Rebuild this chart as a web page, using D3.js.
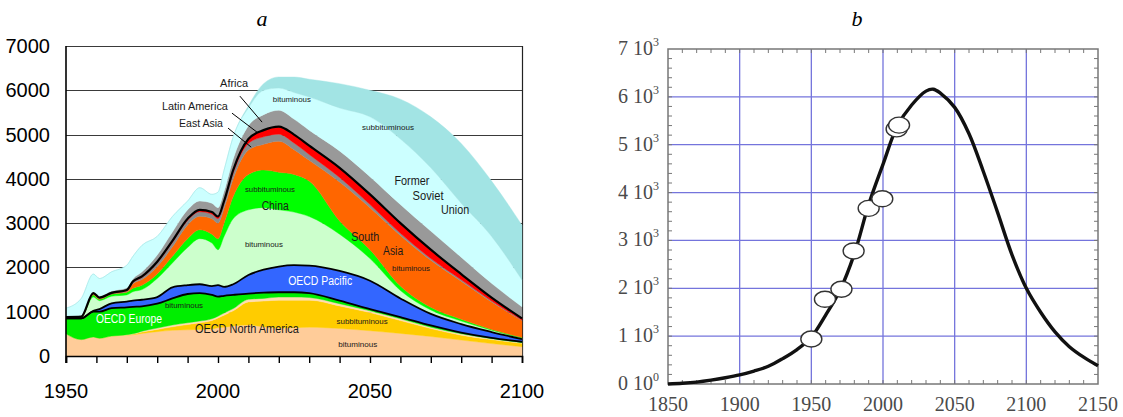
<!DOCTYPE html>
<html>
<head>
<meta charset="utf-8">
<script src="https://cdn.jsdelivr.net/npm/d3@7"></script>
<style>
  body { margin: 0; background: #fff; }
  text { font-family: "Liberation Sans", Arial, sans-serif; }
  .serif { font-family: "Liberation Serif", "Times New Roman", serif; }
</style>
</head>
<body>
<svg id="chart" width="1123" height="417"></svg>
<script>
// ---------- PANEL A : coal production by region (stacked) ----------
var years = [1950, 1955, 1959, 1961, 1965, 1970, 1972, 1975, 1980, 1985, 1990, 1994, 1998, 2000,
  2002, 2005, 2010, 2015, 2020, 2025, 2030, 2040, 2050, 2060, 2070, 2080, 2090, 2100];

var naBit     = [500, 370, 430, 400, 450, 470, 480, 510, 550, 580, 590, 600, 610, 640, 650, 680, 700, 660, 630, 640, 650, 620, 570, 510, 440, 360, 280, 210];
var naSub     = [0, 0, 0, 0, 0, 0, 10, 30, 50, 80, 120, 150, 190, 220, 270, 340, 520, 580, 630, 620, 610, 510, 410, 290, 180, 110, 90, 77];
var naLig     = [0, 0, 0, 0, 0, 10, 10, 20, 30, 40, 40, 40, 40, 40, 50, 50, 60, 60, 70, 70, 60, 50, 40, 40, 30, 30, 20, 15];
var europe    = [350, 480, 570, 600, 630, 620, 610, 560, 550, 600, 650, 630, 540, 440, 390, 310, 130, 130, 110, 110, 100, 70, 40, 40, 40, 30, 20, 20];
var pacific   = [0, 0, 20, 60, 110, 130, 140, 150, 150, 250, 200, 200, 200, 260, 200, 240, 420, 520, 580, 610, 620, 670, 640, 420, 260, 190, 130, 58];
var chinaBit  = [20, 30, 310, 190, 160, 150, 200, 230, 420, 550, 850, 1030, 970, 800, 1140, 1480, 1470, 1400, 1280, 1200, 1110, 830, 500, 180, 90, 70, 40, 20];
var chinaSub  = [0, 0, 50, 30, 50, 60, 80, 100, 100, 150, 200, 200, 200, 250, 300, 500, 800, 850, 850, 850, 800, 300, 200, 100, 60, 40, 20, 20];
var southAsia = [0, 0, 20, 20, 0, 10, 100, 125, 170, 215, 310, 305, 350, 350, 335, 400, 550, 580, 700, 560, 470, 880, 950, 1140, 1060, 860, 620, 380];
var eastAsia  = [0, 0, 10, 10, 10, 20, 30, 50, 80, 100, 100, 100, 100, 100, 110, 130, 150, 170, 160, 150, 130, 100, 70, 50, 40, 30, 20, 10];
var latinAm   = [10, 10, 10, 10, 15, 20, 20, 25, 30, 35, 40, 45, 50, 50, 55, 70, 100, 150, 170, 190, 200, 220, 230, 230, 200, 130, 80, 40];
var africa    = [20, 20, 30, 30, 40, 50, 60, 100, 150, 200, 200, 200, 200, 200, 220, 250, 300, 350, 370, 350, 350, 380, 400, 420, 420, 380, 320, 260];
var fsuBit    = [180, 390, 400, 400, 435, 510, 510, 600, 420, 350, 200, 300, 200, 350, 480, 500, 400, 550, 500, 600, 750, 970, 1350, 1480, 1430, 1220, 1060, 605];
var fsuSub    = [0, 0, 0, 0, 0, 0, 0, 0, 0, 0, 0, 0, 0, 0, 0, 0, 50, 150, 250, 350, 400, 550, 600, 900, 1150, 1350, 1250, 1240];

var layerKeys = ['naBit', 'naSub', 'naLig', 'europe', 'pacific', 'chinaBit', 'chinaSub',
  'southAsia', 'eastAsia', 'latinAm', 'africa', 'fsuBit', 'fsuSub'];
var layerColors = {
  naBit: '#ffcc99', naSub: '#ffcc00', naLig: '#ffdcb0', europe: '#00ee00', pacific: '#3366ff',
  chinaBit: '#ccffcc', chinaSub: '#00ff00', southAsia: '#ff6600', eastAsia: '#8c8c8c',
  latinAm: '#ff0000', africa: '#999999', fsuBit: '#ccffff', fsuSub: '#a2e4e4'
};
var outlinedKeys = ['europe', 'pacific', 'latinAm'];   // black line on top of these layers

var yTicksA = [0, 1000, 2000, 3000, 4000, 5000, 6000, 7000];
var xLabelsA = [1950, 2000, 2050, 2100];

// text labels placed in data units (year, value)
var labelsA = [
  { t: 'Africa', yr: 2005.3, v: 6070, w: 28, s: 11 },
  { t: 'Latin America', yr: 1992.4, v: 5550, w: 66, s: 11 },
  { t: 'East Asia', yr: 1994.4, v: 5170, w: 44, s: 11 },
  { t: 'bituminous', yr: 2024.3, v: 5730, w: 38, s: 7.5 },
  { t: 'subbituminous', yr: 2055.9, v: 5100, w: 52, s: 7.5 },
  { t: 'Former', yr: 2063.8, v: 3860, w: 35, s: 12 },
  { t: 'Soviet', yr: 2069.1, v: 3520, w: 31, s: 12 },
  { t: 'Union', yr: 2078, v: 3205, w: 28, s: 12 },
  { t: 'subbituminous', yr: 2017.1, v: 3700, w: 50, s: 7.5 },
  { t: 'China', yr: 2018.8, v: 3295, w: 27, s: 12 },
  { t: 'bituminous', yr: 2015.1, v: 2460, w: 38, s: 7.5 },
  { t: 'South', yr: 2048.4, v: 2596, w: 28, s: 12 },
  { t: 'Asia', yr: 2057.6, v: 2280, w: 20, s: 12 },
  { t: 'bituminous', yr: 2063.5, v: 1918, w: 38, s: 7.5 },
  { t: 'OECD Pacific', yr: 2033.6, v: 1602, w: 64, s: 12, c: '#fff' },
  { t: 'bituminous', yr: 1988.8, v: 1083, w: 38, s: 7.5 },
  { t: 'OECD Europe', yr: 1970.7, v: 745, w: 66, s: 12, c: '#fff' },
  { t: 'OECD North America', yr: 2009.5, v: 519, w: 104, s: 12 },
  { t: 'subbituminous', yr: 2047.4, v: 722, w: 51, s: 7.5 },
  { t: 'bituminous', yr: 2046, v: 203, w: 39, s: 7.5 }
];
var leadersA = [
  [[2007.2, 5868], [2014.5, 5281]],
  [[2004.6, 5484], [2012.8, 5056]],
  [[2003.3, 5146], [2010.9, 4717]]
];

// ---------- PANEL B : single curve with observed points ----------
var curveYears  = [1850, 1860, 1870, 1880, 1890, 1900, 1910, 1920, 1930, 1940, 1950, 1960, 1970, 1980, 1990,
  2000, 2010, 2020, 2030, 2035, 2040, 2050, 2060, 2070, 2080, 2090, 2100, 2110, 2120, 2130, 2140, 2150];
var curveValues = [0, 15, 40, 80, 130, 190, 270, 370, 530, 720, 980, 1440, 1960, 2720, 3750,
  4590, 5390, 5830, 6120, 6160, 6080, 5780, 5230, 4440, 3580, 2700, 2000, 1500, 1090, 780, 560, 380];
var pointYears  = [1950, 1959.5, 1971, 1979.5, 1990, 1999.5, 2009.5, 2011.2];
var pointValues = [940, 1770, 1980, 2780, 3670, 3870, 5330, 5410];
var yTicksB = [0, 1, 2, 3, 4, 5, 6, 7];
var xTicksB = [1850, 1900, 1950, 2000, 2050, 2100, 2150];

var svg = d3.select('#chart');

// ================= panel a =================
var xA = d3.scaleLinear().domain([1950, 2100]).range([66, 522]);
var yA = d3.scaleLinear().domain([0, 7000]).range([356, 46]);

var gA = svg.append('g');

// grid lines behind the areas
gA.append('g')
  .selectAll('line')
  .data(yTicksA.filter(d => d > 0))
  .join('line')
  .attr('x1', xA(1950))
  .attr('x2', xA(2100))
  .attr('y1', d => Math.round(yA(d)) + 0.5)
  .attr('y2', d => Math.round(yA(d)) + 0.5)
  .attr('stroke', '#3a3a3a')
  .attr('stroke-width', 1.2);

gA.append('line')
  .attr('x1', xA(2100) + 0.5).attr('x2', xA(2100) + 0.5)
  .attr('y1', yA(7000)).attr('y2', yA(0))
  .attr('stroke', '#222').attr('stroke-width', 1.2);

var table = years.map(function(yr, i) {
  var row = { year: yr };
  row.naBit = naBit[i]; row.naSub = naSub[i]; row.naLig = naLig[i];
  row.europe = europe[i]; row.pacific = pacific[i];
  row.chinaBit = chinaBit[i]; row.chinaSub = chinaSub[i];
  row.southAsia = southAsia[i]; row.eastAsia = eastAsia[i]; row.latinAm = latinAm[i];
  row.africa = africa[i]; row.fsuBit = fsuBit[i]; row.fsuSub = fsuSub[i];
  return row;
});

var stacked = d3.stack().keys(layerKeys)(table);

var area = d3.area()
  .x(d => xA(d.data.year))
  .y0(d => yA(d[0]))
  .y1(d => yA(d[1]))
  .curve(d3.curveMonotoneX);

gA.append('g')
  .selectAll('path')
  .data(stacked)
  .join('path')
  .attr('d', area)
  .attr('fill', d => layerColors[d.key])
  .attr('stroke', d => layerColors[d.key])
  .attr('stroke-width', 0.4);

var topLine = d3.line()
  .x(d => xA(d.data.year))
  .y(d => yA(d[1]))
  .curve(d3.curveMonotoneX);

gA.append('g')
  .selectAll('path')
  .data(stacked.filter(s => outlinedKeys.indexOf(s.key) >= 0))
  .join('path')
  .attr('d', topLine)
  .attr('fill', 'none')
  .attr('stroke', '#000')
  .attr('stroke-width', d => d.key == 'latinAm' ? 2.2 : 1.8);

// labels inside the chart
gA.append('g')
  .selectAll('text')
  .data(labelsA)
  .join('text')
  .attr('x', d => xA(d.yr))
  .attr('y', d => yA(d.v))
  .attr('text-anchor', 'middle')
  .attr('font-size', d => d.s + 'px')
  .attr('textLength', d => d.w)
  .attr('lengthAdjust', 'spacingAndGlyphs')
  .attr('fill', d => d.c || '#1a1a1a')
  .text(d => d.t);

gA.append('g')
  .selectAll('line')
  .data(leadersA)
  .join('line')
  .attr('x1', d => xA(d[0][0])).attr('y1', d => yA(d[0][1]))
  .attr('x2', d => xA(d[1][0])).attr('y2', d => yA(d[1][1]))
  .attr('stroke', '#000').attr('stroke-width', 1);

// axes
gA.append('line')
  .attr('x1', xA(1950)).attr('x2', xA(1950))
  .attr('y1', yA(7000)).attr('y2', yA(0) + 7)
  .attr('stroke', '#000').attr('stroke-width', 1.6);

gA.append('g')
  .attr('transform', 'translate(0,' + yA(0) + ')')
  .call(d3.axisBottom(xA).tickValues(d3.range(1950, 2101, 10)).tickSize(7).tickFormat(''))
  .call(g => g.selectAll('line').attr('stroke', '#000').attr('stroke-width', 1.4))
  .call(g => g.select('.domain').attr('stroke', '#000').attr('stroke-width', 1.6));

gA.append('g')
  .selectAll('text')
  .data(yTicksA)
  .join('text')
  .attr('x', 50)
  .attr('y', d => yA(d) + 7)
  .attr('text-anchor', 'end')
  .attr('font-size', '20px')
  .attr('fill', '#000')
  .text(d => d);

gA.append('g')
  .selectAll('text')
  .data(xLabelsA)
  .join('text')
  .attr('x', d => xA(d))
  .attr('y', 398)
  .attr('text-anchor', 'middle')
  .attr('font-size', '20px')
  .attr('fill', '#000')
  .text(d => d);

svg.append('text')
  .attr('class', 'serif')
  .attr('x', 262).attr('y', 26)
  .attr('text-anchor', 'middle')
  .attr('font-size', '22px')
  .attr('font-style', 'italic')
  .text('a');

// ================= panel b =================
var xB = d3.scaleLinear().domain([1850, 2150]).range([668, 1098]);
var yB = d3.scaleLinear().domain([0, 7000]).range([384, 49]);

var gB = svg.append('g');
var gridColor = '#7474dc';

gB.append('g')
  .selectAll('line')
  .data(xTicksB.slice(1, -1))
  .join('line')
  .attr('x1', d => xB(d)).attr('x2', d => xB(d))
  .attr('y1', yB(7000)).attr('y2', yB(0))
  .attr('stroke', gridColor).attr('stroke-width', 1.3);

gB.append('g')
  .selectAll('line')
  .data(yTicksB.slice(1, -1))
  .join('line')
  .attr('x1', xB(1850)).attr('x2', xB(2150))
  .attr('y1', d => yB(d * 1000)).attr('y2', d => yB(d * 1000))
  .attr('stroke', gridColor).attr('stroke-width', 1.3);

// frame with small inward ticks
gB.append('rect')
  .attr('x', xB(1850)).attr('y', yB(7000))
  .attr('width', xB(2150) - xB(1850)).attr('height', yB(0) - yB(7000))
  .attr('fill', 'none').attr('stroke', '#777').attr('stroke-width', 1.5);

var minorX = d3.range(1860, 2150, 10);
var minorY = d3.range(200, 7000, 200);

gB.append('g')
  .selectAll('line')
  .data(minorX)
  .join('line')
  .attr('x1', d => xB(d)).attr('x2', d => xB(d))
  .attr('y1', yB(0)).attr('y2', yB(0) - 4)
  .attr('stroke', '#777').attr('stroke-width', 1);
gB.append('g')
  .selectAll('line')
  .data(minorX)
  .join('line')
  .attr('x1', d => xB(d)).attr('x2', d => xB(d))
  .attr('y1', yB(7000)).attr('y2', yB(7000) + 4)
  .attr('stroke', '#777').attr('stroke-width', 1);
gB.append('g')
  .selectAll('line')
  .data(minorY)
  .join('line')
  .attr('x1', xB(1850)).attr('x2', xB(1850) + 4)
  .attr('y1', d => yB(d)).attr('y2', d => yB(d))
  .attr('stroke', '#777').attr('stroke-width', 1);
gB.append('g')
  .selectAll('line')
  .data(minorY)
  .join('line')
  .attr('x1', xB(2150)).attr('x2', xB(2150) - 4)
  .attr('y1', d => yB(d)).attr('y2', d => yB(d))
  .attr('stroke', '#777').attr('stroke-width', 1);

var curveData = curveYears.map((yr, i) => [yr, curveValues[i]]);
gB.append('path')
  .datum(curveData)
  .attr('d', d3.line().x(d => xB(d[0])).y(d => yB(d[1])).curve(d3.curveCatmullRom.alpha(0.5)))
  .attr('fill', 'none')
  .attr('stroke', '#111')
  .attr('stroke-width', 3.4);

gB.append('g')
  .selectAll('ellipse')
  .data(pointYears.map((yr, i) => [yr, pointValues[i]]))
  .join('ellipse')
  .attr('cx', d => xB(d[0]))
  .attr('cy', d => yB(d[1]))
  .attr('rx', 10.5)
  .attr('ry', 8)
  .attr('fill', '#fff')
  .attr('stroke', '#333')
  .attr('stroke-width', 1.4);

// tick labels "k 10^3"
var yLab = gB.append('g')
  .selectAll('text')
  .data(yTicksB)
  .join('text')
  .attr('class', 'serif')
  .attr('x', 659)
  .attr('y', d => yB(d * 1000) + 6)
  .attr('text-anchor', 'end')
  .attr('font-size', '20px')
  .attr('fill', '#4a4a4a');
yLab.append('tspan').text(d => d + ' 10');
yLab.append('tspan')
  .attr('dy', -9)
  .attr('font-size', '12px')
  .text(d => d == 0 ? '0' : '3');

gB.append('g')
  .selectAll('text')
  .data(xTicksB)
  .join('text')
  .attr('class', 'serif')
  .attr('x', d => xB(d))
  .attr('y', 411)
  .attr('text-anchor', 'middle')
  .attr('font-size', '20px')
  .attr('fill', '#4a4a4a')
  .text(d => d);

svg.append('text')
  .attr('class', 'serif')
  .attr('x', 857).attr('y', 26)
  .attr('text-anchor', 'middle')
  .attr('font-size', '22px')
  .attr('font-style', 'italic')
  .text('b');
</script>
</body>
</html>
